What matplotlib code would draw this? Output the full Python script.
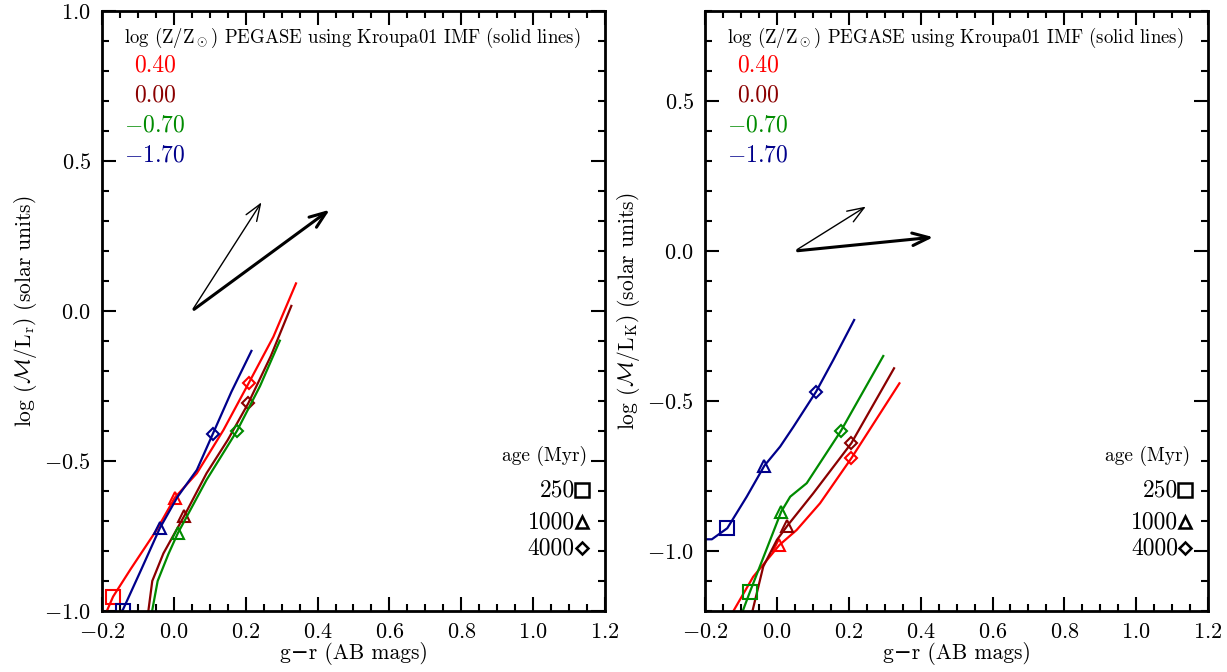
import matplotlib
matplotlib.use("Agg")
import matplotlib.pyplot as plt
from matplotlib.ticker import MultipleLocator

plt.rcParams['font.family'] = ['cmr10', 'DejaVu Serif']
plt.rcParams['mathtext.fontset'] = 'cm'
plt.rcParams['axes.formatter.use_mathtext'] = True
plt.rcParams['axes.unicode_minus'] = True

# metallicities and colours
metal_labels = ["0.40", "0.00", r"$-$0.70", r"$-$1.70"]
metal_colors = ["#ff0000", "#8b0000", "#008b00", "#00008b"]

age_labels = ["250", "1000", "4000"]
age_markers = ["s", "^", "D"]

# left panel: g-r vs log(M/L_r)
left_x = [
    [-0.19, -0.169, -0.12, -0.048, 0.003, 0.064, 0.138, 0.209, 0.277, 0.34],
    [-0.072, -0.06, -0.029, 0.029, 0.091, 0.15, 0.207, 0.27, 0.327],
    [-0.062, -0.045, -0.015, 0.011, 0.091, 0.176, 0.24, 0.295],
    [-0.165, -0.141, -0.09, -0.039, 0.01, 0.064, 0.108, 0.16, 0.216],
]
left_y = [
    [-1.01, -0.952, -0.86, -0.73, -0.622, -0.541, -0.397, -0.239, -0.086, 0.092],
    [-1.01, -0.9, -0.808, -0.683, -0.541, -0.43, -0.308, -0.15, 0.017],
    [-1.01, -0.9, -0.81, -0.741, -0.563, -0.399, -0.25, -0.099],
    [-1.03, -0.994, -0.86, -0.724, -0.62, -0.53, -0.411, -0.27, -0.133],
]
# age marks (250, 1000, 4000 Myr); None = off the plot
left_mark_x = [[-0.169, 0.003, 0.209], [None, 0.029, 0.207],
               [None, 0.011, 0.176], [-0.141, -0.039, 0.108]]
left_mark_y = [[-0.952, -0.622, -0.239], [None, -0.683, -0.308],
               [None, -0.741, -0.399], [-1.0, -0.724, -0.411]]

# right panel: g-r vs log(M/L_K)
right_x = [
    [-0.121, -0.066, 0.007, 0.055, 0.12, 0.207, 0.341],
    [-0.068, -0.038, 0.0, 0.029, 0.101, 0.207, 0.326],
    [-0.095, -0.075, 0.012, 0.037, 0.083, 0.178, 0.296],
    [-0.2, -0.181, -0.138, -0.084, -0.035, 0.009, 0.046, 0.109, 0.157, 0.215],
]
right_y = [
    [-1.2, -1.086, -0.98, -0.93, -0.841, -0.691, -0.441],
    [-1.2, -1.052, -0.963, -0.916, -0.808, -0.641, -0.391],
    [-1.2, -1.136, -0.869, -0.819, -0.774, -0.6, -0.35],
    [-0.961, -0.961, -0.924, -0.819, -0.716, -0.652, -0.586, -0.469, -0.363, -0.23],
]
right_mark_x = [[None, 0.007, 0.207], [None, 0.029, 0.207],
                [-0.075, 0.012, 0.178], [-0.138, -0.035, 0.109]]
right_mark_y = [[None, -0.98, -0.691], [None, -0.916, -0.641],
                [-1.136, -0.869, -0.6], [-0.924, -0.716, -0.469]]

# arrows: start, thin end, thick end
left_arrow = [(0.05, 0.0), (0.248, 0.37), (0.44, 0.343)]
right_arrow = [(0.05, 0.0), (0.254, 0.153), (0.443, 0.047)]

fig = plt.figure(figsize=(12.27, 6.72), dpi=100)
ax1 = fig.add_axes([0.0831, 0.0908, 0.410, 0.8928])
ax2 = fig.add_axes([0.5746, 0.0908, 0.410, 0.8928])


def marker_size(m):
    return 10 if m == "s" else (9 if m == "^" else 6.5)


def draw_panel(ax, xs, ys, mx, my, arrow, ylim, ylabel):
    for i in range(4):
        ax.plot(xs[i], ys[i], color=metal_colors[i], lw=1.6)
        for j in range(3):
            if mx[i][j] is None:
                continue
            ax.plot(mx[i][j], my[i][j], marker=age_markers[j], ms=marker_size(age_markers[j]),
                    mfc="none", mec=metal_colors[i], mew=1.5, linestyle="none")
    s, e1, e2 = arrow
    ax.annotate("", xy=e1, xytext=s,
                arrowprops=dict(arrowstyle="->,head_length=1.2,head_width=0.45", lw=1.0, color="black"))
    ax.annotate("", xy=e2, xytext=s,
                arrowprops=dict(arrowstyle="->,head_length=1.2,head_width=0.45", lw=2.2, color="black"))

    ax.set_xlim(-0.2, 1.2)
    ax.set_ylim(*ylim)
    ax.xaxis.set_major_locator(MultipleLocator(0.2))
    ax.xaxis.set_minor_locator(MultipleLocator(0.05))
    ax.yaxis.set_major_locator(MultipleLocator(0.5))
    ax.yaxis.set_minor_locator(MultipleLocator(0.1))
    ax.tick_params(which="both", direction="in", top=True, right=True, labelsize=16, width=1.5)
    ax.tick_params(which="major", length=10, pad=8)
    ax.tick_params(which="minor", length=5)
    for sp in ax.spines.values():
        sp.set_linewidth(2)
    ax.set_xlabel("g\u2212r (AB mags)", fontsize=15.5, labelpad=0)
    ax.set_ylabel(ylabel, fontsize=15.5, labelpad=4)

    ax.text(0.497, 0.955, r"log (Z/Z$_\odot$) PEGASE using Kroupa01 IMF (solid lines)",
            transform=ax.transAxes, ha="center", va="center", fontsize=13.5)
    for i in range(4):
        ax.text(0.105, 0.91 - i * 0.05, metal_labels[i], color=metal_colors[i],
                transform=ax.transAxes, ha="center", va="center", fontsize=17)
    ax.text(0.965, 0.258, "age (Myr)", transform=ax.transAxes, ha="right",
            va="center", fontsize=14)
    age_y = [0.2017, 0.148, 0.105]
    for j in range(3):
        ax.text(0.94, age_y[j], age_labels[j], transform=ax.transAxes,
                ha="right", va="center", fontsize=17)
        ax.plot(0.955, age_y[j], marker=age_markers[j], ms=marker_size(age_markers[j]),
                mfc="none", mec="black", mew=1.8, transform=ax.transAxes)


draw_panel(ax1, left_x, left_y, left_mark_x, left_mark_y, left_arrow, (-1.0, 1.0),
           r"log ($\mathcal{M}$/L$_{\rm r}$) (solar units)")
draw_panel(ax2, right_x, right_y, right_mark_x, right_mark_y, right_arrow, (-1.2, 0.8),
           r"log ($\mathcal{M}$/L$_{\rm K}$) (solar units)")

fig.savefig("out.png", dpi=100)
